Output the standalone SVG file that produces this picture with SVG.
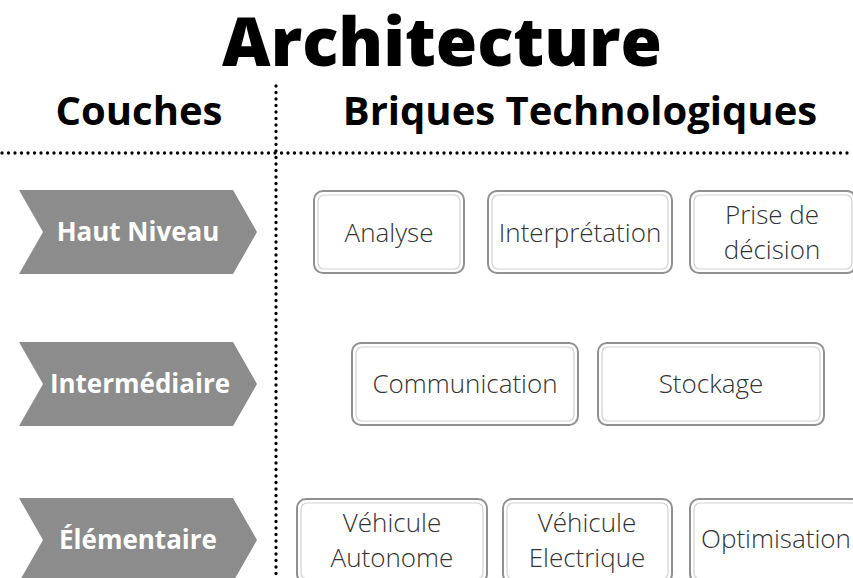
<svg xmlns="http://www.w3.org/2000/svg" width="853" height="578" viewBox="0 0 853 578">
<style>
.title{font-family:"Open Sans","Liberation Sans",sans-serif;font-weight:800;font-size:67px;fill:#000}
.head{font-family:"Open Sans","Liberation Sans",sans-serif;font-weight:700;font-size:40px;fill:#000}
.chev{fill:#8c8c8c}
.chevt{font-family:"Open Sans","Liberation Sans",sans-serif;font-weight:700;font-size:26px;fill:#fff}
.bo{fill:#fff;stroke:#909090;stroke-width:2}
.bi{fill:none;stroke:#d2d2d2;stroke-width:1.2}
.bt{font-family:"Open Sans","Liberation Sans",sans-serif;font-weight:300;font-size:26px;fill:#333}
.dots{fill:none;stroke:#000;stroke-width:3.3;stroke-linecap:round;stroke-dasharray:0 6.5}
</style>
<rect width="853" height="578" fill="#fff"/>
<text class="title" x="442" y="66" text-anchor="middle">Architecture</text>
<text class="head" x="139" y="125" text-anchor="middle">Couches</text>
<text class="head" x="580" y="125" text-anchor="middle">Briques Technologiques</text>
<g id="connectors">
<line class="dots" x1="2" y1="153" x2="853" y2="153"/>
<line class="dots" x1="276" y1="86" x2="276" y2="580"/>
</g>
<g id="layer-haut">
<polygon class="chev" points="19,190 233,190 257,232 233,274 19,274 43,232"/>
<text class="chevt" x="138" y="241" text-anchor="middle">Haut Niveau</text>
</g>
<g id="layer-inter">
<polygon class="chev" points="19,342 233,342 257,384 233,426 19,426 43,384"/>
<text class="chevt" x="140" y="393" text-anchor="middle">Intermédiaire</text>
</g>
<g id="layer-elem">
<polygon class="chev" points="19,498 233,498 257,540 233,582 19,582 43,540"/>
<text class="chevt" x="138" y="549" text-anchor="middle">Élémentaire</text>
</g>
<g id="analyse">
<rect class="bo" x="314" y="191" width="150" height="82" rx="9"/>
<rect class="bi" x="318" y="195" width="142" height="74" rx="6"/>
<text class="bt" x="389" y="242" text-anchor="middle">Analyse</text>
</g>
<g id="interpretation">
<rect class="bo" x="488" y="191" width="184" height="82" rx="9"/>
<rect class="bi" x="492" y="195" width="176" height="74" rx="6"/>
<text class="bt" x="580" y="242" text-anchor="middle">Interprétation</text>
</g>
<g id="prise-decision">
<rect class="bo" x="690" y="191" width="166" height="82" rx="9"/>
<rect class="bi" x="694" y="195" width="158" height="74" rx="6"/>
<text class="bt" x="772" y="224" text-anchor="middle">Prise de</text>
<text class="bt" x="772" y="259" text-anchor="middle">décision</text>
</g>
<g id="communication">
<rect class="bo" x="352" y="343" width="226" height="82" rx="9"/>
<rect class="bi" x="356" y="347" width="218" height="74" rx="6"/>
<text class="bt" x="465" y="393" text-anchor="middle">Communication</text>
</g>
<g id="stockage">
<rect class="bo" x="598" y="343" width="226" height="82" rx="9"/>
<rect class="bi" x="602" y="347" width="218" height="74" rx="6"/>
<text class="bt" x="711" y="393" text-anchor="middle">Stockage</text>
</g>
<g id="vehicule-autonome">
<rect class="bo" x="297" y="499" width="190" height="84" rx="9"/>
<rect class="bi" x="301" y="503" width="182" height="76" rx="6"/>
<text class="bt" x="392" y="532" text-anchor="middle">Véhicule</text>
<text class="bt" x="392" y="567" text-anchor="middle">Autonome</text>
</g>
<g id="vehicule-electrique">
<rect class="bo" x="503" y="499" width="169" height="84" rx="9"/>
<rect class="bi" x="507" y="503" width="161" height="76" rx="6"/>
<text class="bt" x="587" y="532" text-anchor="middle">Véhicule</text>
<text class="bt" x="587" y="567" text-anchor="middle">Electrique</text>
</g>
<g id="optimisation">
<rect class="bo" x="690" y="499" width="172" height="84" rx="9"/>
<rect class="bi" x="694" y="503" width="164" height="76" rx="6"/>
<text class="bt" x="776" y="548" text-anchor="middle">Optimisation</text>
</g>
</svg>
